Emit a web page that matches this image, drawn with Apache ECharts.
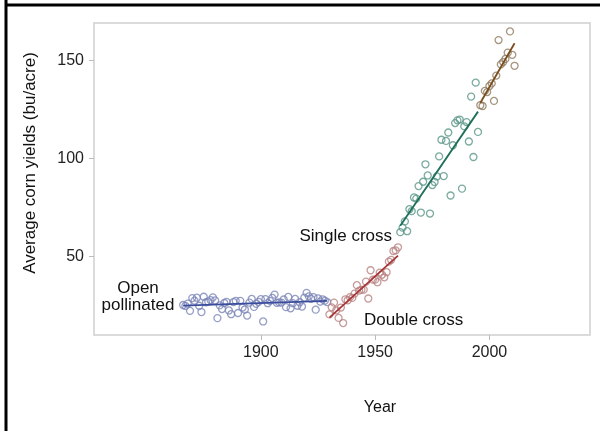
<!DOCTYPE html>
<html>
<head>
<meta charset="utf-8">
<script src="https://cdn.jsdelivr.net/npm/echarts@6/dist/echarts.min.js"></script>
<style>html,body{margin:0;padding:0;background:#fff}#c{width:600px;height:431px}</style>
</head>
<body>
<div id="c"></div>
<script>
// Open pollinated era (1866-1929)
var openStart = 1866;
var openYields = [25.3,24.8,26.0,22.3,28.8,27.5,29.0,24.9,21.7,29.5,26.7,27.0,27.8,29.2,27.6,18.6,25.1,23.2,26.3,26.9,22.5,20.6,26.8,27.4,21.2,27.4,24.0,23.0,19.9,26.5,28.4,24.3,25.9,26.9,28.3,16.9,28.3,26.2,27.4,28.9,30.6,26.4,26.6,26.5,28.1,24.2,29.4,23.6,26.2,28.4,24.9,26.7,24.5,29.0,31.5,29.7,28.4,29.3,22.9,28.7,27.0,28.2,27.5,26.8];
// Double cross era (1930-1960)
var doubleStart = 1930;
var doubleYields = [20.5,24.1,26.5,22.6,18.7,24.0,16.1,28.2,27.7,29.3,28.9,31.1,35.4,32.6,33.0,33.1,37.2,28.6,43.0,38.2,38.2,36.9,41.8,40.7,39.4,42.0,47.4,48.3,52.8,53.1,54.7];
// Single cross era (1961-1995)
var singleStart = 1961;
var singleYields = [62.4,64.7,67.9,62.9,74.1,73.1,80.1,79.5,85.9,72.4,88.1,97.0,91.3,71.9,86.4,88.0,90.8,101.0,109.5,91.0,108.9,113.2,81.1,106.7,118.0,119.4,119.8,84.6,116.3,118.5,108.6,131.5,100.7,138.6,113.5];
// Biotech era (1996-2011)
var bioStart = 1996;
var bioYields = [127.1,126.7,134.4,133.8,136.9,138.2,129.3,142.2,160.3,147.9,149.1,150.7,153.9,164.7,152.8,147.2];

var xTicks = [1900, 1950, 2000];
var yTicks = [50, 100, 150];

function pts(start, vals){ return vals.map(function(v,i){ return [start+i, v]; }); }
function fit(start, vals){
  var n = vals.length, sx=0, sy=0, sxx=0, sxy=0;
  vals.forEach(function(v,i){ var x=start+i; sx+=x; sy+=v; sxx+=x*x; sxy+=x*v; });
  var b = (n*sxy - sx*sy)/(n*sxx - sx*sx), a = (sy - b*sx)/n;
  var x0 = start, x1 = start+n-1;
  return [[x0, a+b*x0],[x1, a+b*x1]];
}

var groups = [
  {s:openStart, v:openYields, pc:'#7c86b8', lc:'#3a4c9c'},
  {s:doubleStart, v:doubleYields, pc:'#b88282', lc:'#a83535'},
  {s:singleStart, v:singleYields, pc:'#5a9687', lc:'#1d6e5a'},
  {s:bioStart, v:bioYields, pc:'#8f7b62', lc:'#7a4e1c'}
];
var series = [];
groups.forEach(function(g){
  series.push({type:'scatter', data:pts(g.s,g.v), symbol:'circle', symbolSize:7,
    itemStyle:{color:'rgba(0,0,0,0)', borderColor:g.pc, borderWidth:1.3}, silent:true, z:2});
});
groups.forEach(function(g){
  series.push({type:'line', data:fit(g.s,g.v), symbol:'none',
    lineStyle:{color:g.lc, width:1.8}, silent:true, z:3});
});

var font = 'Liberation Sans, Arial, sans-serif';
var chart = echarts.init(document.getElementById('c'));
chart.setOption({
  animation:false,
  backgroundColor:'#fff',
  grid:{left:94, top:23, right:10, bottom:96, show:true, borderColor:'#cfcfcf', borderWidth:1.5, containLabel:false},
  xAxis:{type:'value', min:1827, max:2044, splitLine:{show:false},
    axisLine:{show:false},
    axisTick:{show:true, customValues:xTicks, length:5, lineStyle:{color:'#bbb'}},
    axisLabel:{customValues:xTicks, formatter:function(v){return String(v);}, color:'#222', fontSize:16, fontFamily:font, margin:10}},
  yAxis:{type:'value', min:10, max:169, splitLine:{show:false},
    axisLine:{show:false},
    axisTick:{show:true, customValues:yTicks, length:5, lineStyle:{color:'#bbb'}},
    axisLabel:{customValues:yTicks, formatter:function(v){return String(v);}, color:'#222', fontSize:16, fontFamily:font, margin:10}},
  series:series,
  graphic:[
    {type:'line', shape:{x1:6, y1:0, x2:6, y2:431}, style:{stroke:'#000', lineWidth:3}},
    {type:'line', shape:{x1:5, y1:5, x2:600, y2:5}, style:{stroke:'#000', lineWidth:3}},
    {type:'text', x:30, y:163, rotation:Math.PI/2, style:{text:'Average corn yields (bu/acre)', font:'17px '+font, fill:'#111', align:'center', verticalAlign:'middle'}},
    {type:'text', x:380, y:408, style:{text:'Year', font:'16px '+font, fill:'#111', align:'center', verticalAlign:'middle'}},
    {type:'text', x:138, y:288, style:{text:'Open', font:'17px '+font, fill:'#111', align:'center', verticalAlign:'middle'}},
    {type:'text', x:138, y:305, style:{text:'pollinated', font:'17px '+font, fill:'#111', align:'center', verticalAlign:'middle'}},
    {type:'text', x:392, y:236, style:{text:'Single cross', font:'17px '+font, fill:'#111', align:'right', verticalAlign:'middle'}},
    {type:'text', x:364, y:320, style:{text:'Double cross', font:'17px '+font, fill:'#111', align:'left', verticalAlign:'middle'}}
  ]
});
</script>
</body>
</html>
